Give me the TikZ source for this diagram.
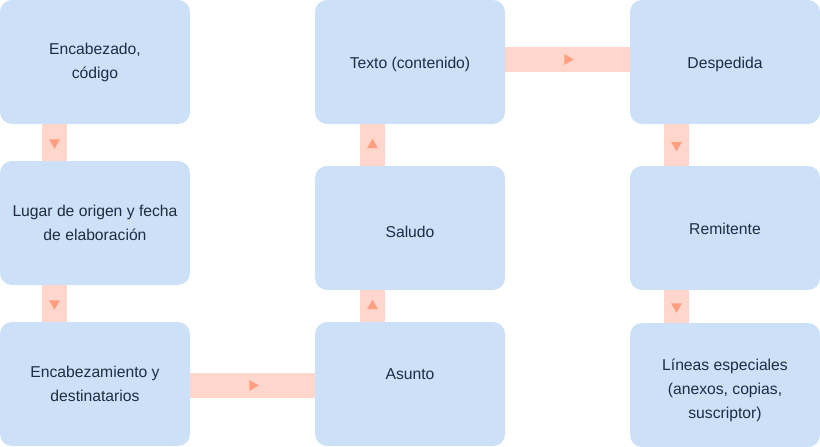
\documentclass[tikz,border=0pt]{standalone}
\usepackage{fontspec}
\setmainfont{Liberation Sans}
\usetikzlibrary{shapes.geometric}

\definecolor{boxblue}{HTML}{CCE0F8}
\definecolor{linkpink}{HTML}{FFD6CB}
\definecolor{tipsalmon}{HTML}{FF9E80}
\definecolor{textnavy}{HTML}{1F2D3F}

\newcommand{\shiftup}[2]{\raisebox{#1}[\height][\depth]{#2}}

\tikzset{
  part/.style={fill=boxblue, rounded corners=12pt, minimum width=190pt,
    minimum height=124pt, inner sep=0pt, align=center, text=textnavy,
    font=\fontsize{15.7}{24}\selectfont},
  link/.style={draw=linkpink, line width=25pt},
  tip/.style={regular polygon, regular polygon sides=3, fill=tipsalmon,
    inner sep=0pt, minimum size=12.5pt},
}

\begin{document}
\begin{tikzpicture}[x=1pt, y=-1pt]
    \useasboundingbox (0,0) rectangle (820,447);

    % first column
    \node[part] (head) at (95, 62) {Encabezado,\\código};
    \node[part] (place) at (95, 223) {Lugar de origen y fecha\\de elaboración};
    \node[part] (addr) at (95, 384) {Encabezamiento y\\destinatarios};

    % second column
    \node[part] (body) at (410, 62) {\shiftup{-2pt}{Texto (contenido)}};
    \node[part] (greet) at (410, 228) {\shiftup{-4pt}{Saludo}};
    \node[part] (subject) at (410, 384) {\shiftup{10pt}{Asunto}};

    % third column
    \node[part] (bye) at (725, 62) {\shiftup{-2pt}{Despedida}};
    \node[part] (sender) at (725, 228) {\shiftup{-1pt}{Remitente}};
    \node[part] (extra) at (725, 385) {\shiftup{-5pt}{\begin{tabular}{@{}c@{}}Líneas especiales\\(anexos, copias,\\suscriptor)\end{tabular}}};

    % connectors
    \draw[link] ([xshift=-40.5pt]head.south) -- ([xshift=-40.5pt]place.north)
      node[midway, tip, shape border rotate=180] {};
    \draw[link] ([xshift=-40.5pt]place.south) -- ([xshift=-40.5pt]addr.north)
      node[midway, tip, shape border rotate=180] {};
    \draw[link] ([yshift=-1.5pt]addr.east) -- ([yshift=-1.5pt]subject.west)
      node[midway, tip, shape border rotate=-90] {};
    \draw[link] ([xshift=-37.5pt]subject.north) -- ([xshift=-37.5pt]greet.south)
      node[midway, tip] {};
    \draw[link] ([xshift=-37.5pt]greet.north) -- ([xshift=-37.5pt]body.south)
      node[midway, tip] {};
    \draw[link] ([yshift=2.5pt]body.east) -- ([yshift=2.5pt]bye.west)
      node[midway, tip, shape border rotate=-90] {};
    \draw[link] ([xshift=-48.5pt]bye.south) -- ([xshift=-48.5pt]sender.north)
      node[midway, tip, shape border rotate=180] {};
    \draw[link] ([xshift=-48.5pt]sender.south) -- ([xshift=-48.5pt]extra.north)
      node[midway, tip, shape border rotate=180] {};
\end{tikzpicture}
\end{document}
